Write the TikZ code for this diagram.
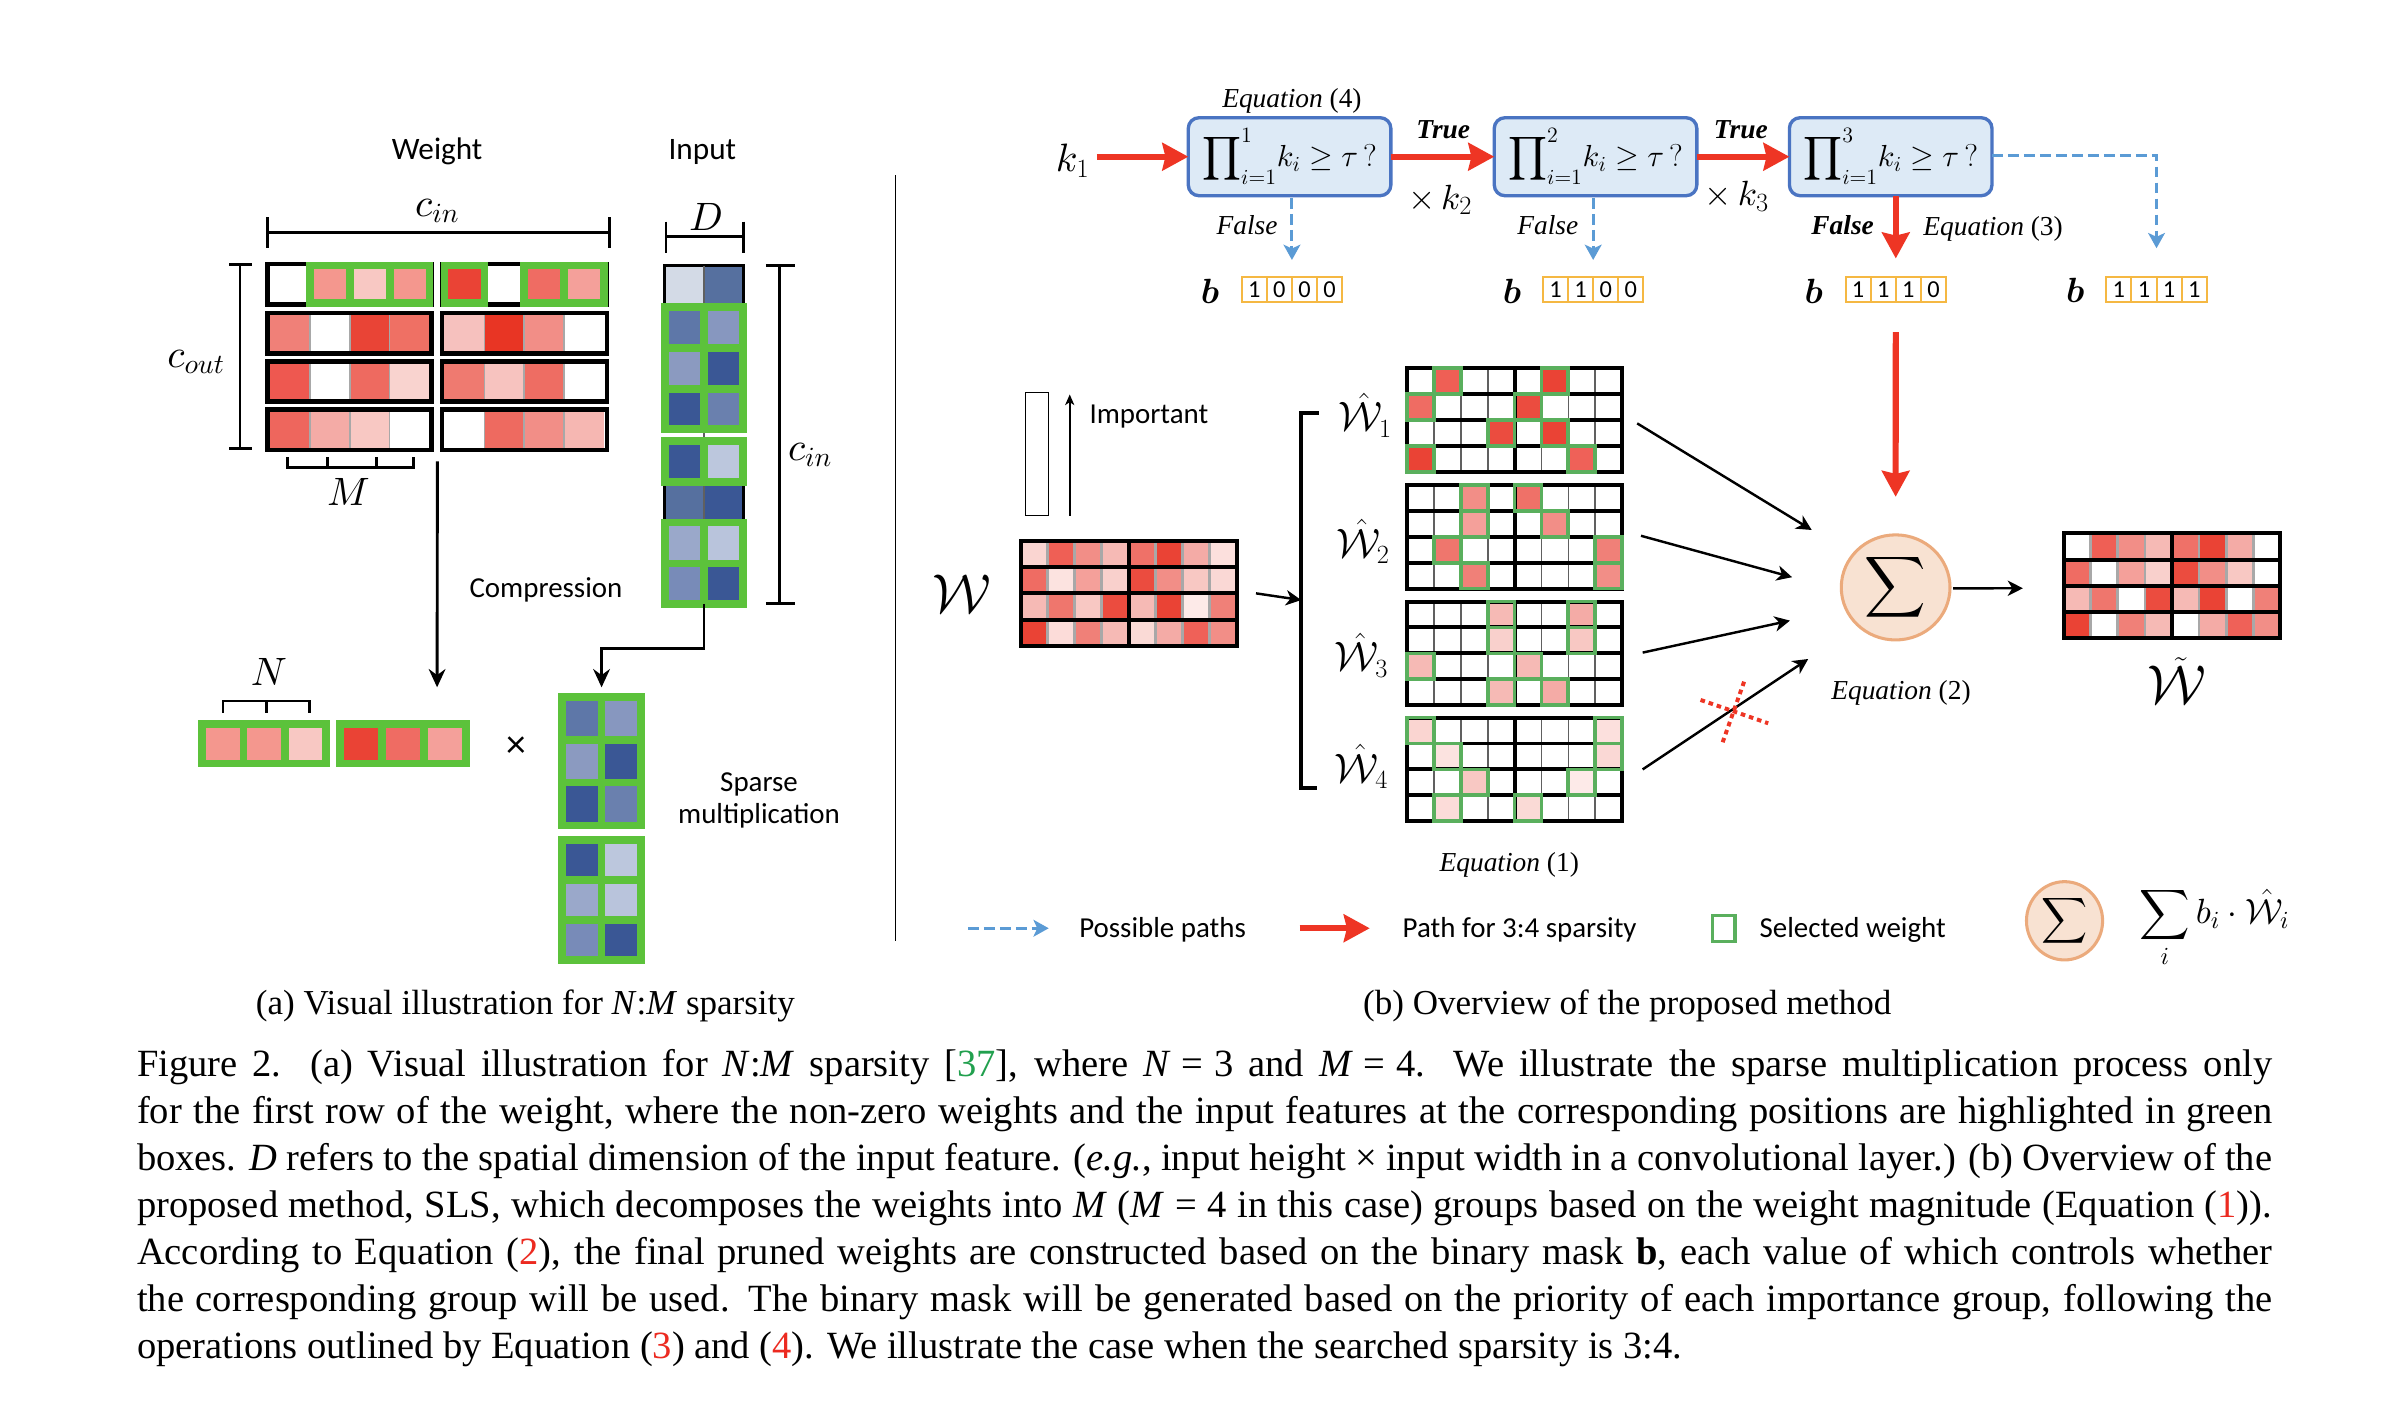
\documentclass[tikz,border=0pt]{standalone}
\usepackage{amsmath}
\usepackage{fontspec}
\setmainfont{Liberation Serif}
\setsansfont{Carlito}
\usetikzlibrary{arrows.meta,calc,shapes.geometric}
\DeclareFontFamily{OML}{cmm}{\skewchar\font127 }
\DeclareFontShape{OML}{cmm}{m}{it}{<->cmmi10}{}
\DeclareFontShape{OML}{cmm}{b}{it}{<->cmmib10}{}
\DeclareFontFamily{OMS}{cmsy}{\skewchar\font48 }
\DeclareFontShape{OMS}{cmsy}{m}{n}{<->cmsy10}{}
\DeclareFontShape{OMS}{cmsy}{b}{n}{<->cmbsy10}{}
\DeclareFontFamily{OMX}{cmex}{}
\DeclareFontShape{OMX}{cmex}{m}{n}{<->cmex10}{}

\definecolor{selgreen}{HTML}{5CC23B}
\definecolor{selgreenB}{HTML}{5AAF5D}
\definecolor{redarr}{HTML}{EE3524}
\definecolor{bluedash}{HTML}{5B9BD5}
\definecolor{boxfill}{HTML}{DDEAF6}
\definecolor{boxline}{HTML}{4A74C2}
\definecolor{sigfill}{HTML}{F8E2D2}
\definecolor{sigline}{HTML}{EBAA7C}
\definecolor{bitline}{HTML}{F5B843}
\definecolor{citegreen}{HTML}{21A04E}
\definecolor{refred}{HTML}{EC2A20}
\definecolor{sepgray}{HTML}{A8A8A8}
\definecolor{thingray}{HTML}{606060}
% weight magnitudes W (row, col)
\definecolor{w00}{HTML}{FAD5D1}\definecolor{w01}{HTML}{EF5F55}\definecolor{w02}{HTML}{F28E87}\definecolor{w03}{HTML}{F6BAB5}
\definecolor{w04}{HTML}{EF7168}\definecolor{w05}{HTML}{EA4335}\definecolor{w06}{HTML}{F4ABA6}\definecolor{w07}{HTML}{FCE0DD}
\definecolor{w10}{HTML}{EF6C63}\definecolor{w11}{HTML}{FCE3E0}\definecolor{w12}{HTML}{F4A09A}\definecolor{w13}{HTML}{F9D0CC}
\definecolor{w14}{HTML}{EB4C3F}\definecolor{w15}{HTML}{F28E87}\definecolor{w16}{HTML}{F8C8C3}\definecolor{w17}{HTML}{FAD8D5}
\definecolor{w20}{HTML}{F6BAB5}\definecolor{w21}{HTML}{EF766D}\definecolor{w22}{HTML}{F8C8C3}\definecolor{w23}{HTML}{EB4C3F}
\definecolor{w24}{HTML}{F6BAB5}\definecolor{w25}{HTML}{EA4335}\definecolor{w26}{HTML}{FDEAE8}\definecolor{w27}{HTML}{F08078}
\definecolor{w30}{HTML}{EA4335}\definecolor{w31}{HTML}{FCDCD9}\definecolor{w32}{HTML}{F08078}\definecolor{w33}{HTML}{F6BAB5}
\definecolor{w34}{HTML}{FADAD6}\definecolor{w35}{HTML}{F4ABA6}\definecolor{w36}{HTML}{EF6158}\definecolor{w37}{HTML}{F28E87}

% grid helpers (origin \Gx,\Gy; cell \Gw x \Gh)
\newcommand\Wfillall{\foreach \rr in {0,...,3}{\foreach \cc in {0,...,7}{\edef\cn{w\rr\cc}\fill[\cn] (\Gx+\cc*\Gw,\Gy+\rr*\Gh) rectangle ++(\Gw,\Gh);}}}
\newcommand\Wsel[1]{\foreach \rr/\cc in {#1}{\edef\cn{w\rr\cc}\fill[\cn] (\Gx+\cc*\Gw,\Gy+\rr*\Gh) rectangle ++(\Gw,\Gh);}}
\newcommand\Wwhite[1]{\foreach \rr/\cc in {#1}{\fill[white] (\Gx+\cc*\Gw,\Gy+\rr*\Gh) rectangle ++(\Gw,\Gh);}}
\newcommand\Wframe[1]{\foreach \rr/\cc in {#1}{\draw[selgreenB,line width=2.4] (\Gx+\cc*\Gw,\Gy+\rr*\Gh) rectangle ++(\Gw,\Gh);}}
\newcommand\Wlines[2]{%
  \foreach \ii in {1,2,3,5,6,7}{\draw[#1,line width=#2] (\Gx+\ii*\Gw,\Gy) -- ++(0,4*\Gh);}
  \foreach \ii in {1,2,3}{\draw[line width=2.6] (\Gx,\Gy+\ii*\Gh) -- ++(8*\Gw,0);}
  \draw[line width=2.6] (\Gx+4*\Gw,\Gy) -- ++(0,4*\Gh);
  \draw[line width=2.6] (\Gx,\Gy) rectangle ++(8*\Gw,4*\Gh);}
\newcommand\bitbox[6]{%
  \node[bitbox] (#1) at (#2,190.1) {};
  \foreach \kk/\dd in {0/#3,1/#4,2/#5,3/#6}{\node[bitdig] (#1-\kk) at ([xshift={(\kk-1.5)*16.5}]#1.center) {\dd};}
  \foreach \kk in {1,2,3}{\draw[bitline,line width=1.3] ([xshift={(\kk-2)*16.5}]#1.north) -- ([xshift={(\kk-2)*16.5}]#1.south);}}

\begin{document}
\begin{tikzpicture}[x=1pt,y=-1pt,
  every node/.style={inner sep=0pt,outer sep=0pt},
  sf/.style={font=\sffamily\fontsize{19}{22}\selectfont},
  sfbig/.style={font=\sffamily\fontsize{20.5}{23}\selectfont},
  ml/.style={font=\fontsize{26}{29}\selectfont},
  eqn/.style={font=\fontsize{18}{20}\selectfont},
  blab/.style={font=\fontsize{23}{25}\selectfont},
  hwlab/.style={font=\fontsize{27}{30}\selectfont},
  captext/.style={font=\fontsize{25.3}{30.8}\selectfont},
  subcap/.style={font=\fontsize{23}{27}\selectfont},
  ghost/.style={inner sep=0pt,outer sep=0pt},
  bitbox/.style={draw=bitline,line width=1.3,minimum width=66,minimum height=16.8},
  bitdig/.style={font=\sffamily\fontsize{16}{18}\selectfont},
  qbox/.style={draw=boxline,fill=boxfill,line width=2.2,rounded corners=7pt,minimum width=133,minimum height=51.2,font=\fontsize{20}{23}\selectfont},
  sigmanode/.style={ellipse,draw=sigline,fill=sigfill,line width=2},
  bline/.style={line width=1.9},
  arrK/.style={line width=1.9,-{Stealth[length=12pt,width=11pt,inset=4pt]}},
  arrS/.style={line width=1.6,-{Stealth[length=10pt,width=10pt,inset=3pt]}},
  redA/.style={redarr,line width=4,-{Stealth[length=17pt,width=18pt,inset=2pt]}},
  bdash/.style={bluedash,line width=1.9,dash pattern=on 7pt off 3.5pt,-{Stealth[length=10pt,width=11pt,inset=2.5pt]}}]

\useasboundingbox (0,0) rectangle (1568,925.8);
\fill[white] (0,0) rectangle (1568,925.8);

%================ (a) =================
\node[sfbig] (tWeight) at (287,99.6) {Weight};
\node[sfbig] (tInput) at (461.2,99.6) {Input};
\node[ml] (tcin) at (287.1,138.5) {$c_{in}$};
\node[ml] (tD) at (463.6,142.5) {$D$};
\node[ml] (tcout) at (128.7,237.5) {$c_{out}$};
\node[ml] (tcin2) at (531.9,298.5) {$c_{in}$};
\node[ml] (tM) at (228.8,323) {$M$};
\node[ml] (tN) at (176.6,441.5) {$N$};

% brackets
\draw[bline] (175.5,142.7) -- (175.5,163) (400,142.7) -- (400,163) (175.5,152.8) -- (400,152.8);
\draw[bline] (437.3,145.5) -- (437.3,165.9) (487.9,145.5) -- (487.9,165.9) (437.3,155.4) -- (487.9,155.4);
\draw[bline] (157.6,173.5) -- (157.6,294.4) (150.6,173.5) -- (165.2,173.5) (150.6,294.4) -- (165.2,294.4);
\draw[bline] (512,174.4) -- (512,396) (502.9,174.4) -- (522,174.4) (502.9,396) -- (522,396);
\draw[bline] (188.5,300.3) -- (188.5,307) -- (271.8,307) -- (271.8,300.3) (215.1,300.3) -- (215.1,307) (247.3,300.3) -- (247.3,307);
\draw[bline] (146.4,467.9) -- (146.4,460.3) -- (203,460.3) -- (203,467.9) (175.2,460.3) -- (175.2,467.9);

% weight matrix
\node[ghost,minimum width=225.8,minimum height=124.8] (lw) at (287.2,234.2) {};
\foreach \ya/\cl in {171.8/{FFFFFF,F4978E,F8C8C3,F4978E,EA4335,FFFFFF,EF6C63,F4A09A},
                     204/{F08078,FFFFFF,E94436,EF7064,F6C1BE,E83524,F28E87,FFFFFF},
                     235.7/{EE5850,FFFFFF,EE6A60,F9D3CF,EF7A70,F7C3BF,EE6D63,FFFFFF},
                     267.5/{EE665D,F4ABA6,F8C8C3,FFFFFF,FFFFFF,EE6A60,F28E87,F6B7B2}}{
  \foreach \hc [count=\jj from 0] in \cl {
    \pgfmathsetmacro\xa{\jj<4 ? 177.3+\jj*26.2 : 291.8+(\jj-4)*26.2}
    \definecolor{tmpc}{HTML}{\hc}
    \fill[tmpc] (\xa,\ya+3) rectangle ++(26.2,23.6);
  }
  \foreach \gg in {177.3,291.8}{\foreach \kk in {1,2,3}{\draw[sepgray,line width=1] (\gg+\kk*26.2,\ya+3) -- ++(0,23.6);}}
  \draw[line width=3] (175.8,\ya+1.5) rectangle (283.3,\ya+28.1);
  \draw[line width=3] (290.3,\ya+1.5) rectangle (398.6,\ya+28.1);
}
\foreach \jj in {1,2,3,4,6,7}{
  \pgfmathsetmacro\xa{\jj<4 ? 177.3+\jj*26.2 : 291.8+(\jj-4)*26.2}
  \draw[selgreen,line width=5] (\xa,174.3) rectangle ++(26.2,24.6);
}

% input column
\node[ghost,minimum width=51.5,minimum height=222] (inp) at (462.25,285.5) {};
\foreach \ya/\yb/\ca/\cb in {174.5/201.5/D3DAE6/56709F, 201.5/228.5/5E77A8/8797BF, 228.5/255.5/8B9AC0/3A5795,
    255.5/281.5/3A5795/6A80AE, 289.5/316.5/3A5795/BCC7DD, 316.5/343/56709F/3A5795, 343/370/9AA8CA/B9C4DC, 370/396.5/788BB8/3A5795}{
  \definecolor{tmpa}{HTML}{\ca}\definecolor{tmpb}{HTML}{\cb}
  \fill[tmpa] (436.5,\ya) rectangle (462.25,\yb);
  \fill[tmpb] (462.25,\ya) rectangle (488,\yb);
}
\draw[line width=1.8] (436.5,174.5) rectangle (488,281.5);
\draw[line width=1.8] (436.5,289.5) rectangle (488,396.5);
\draw[line width=0.8,thingray] (462.25,174.5) -- (462.25,396.5);
\foreach \ya/\yb in {201.5/228.5,228.5/255.5,255.5/281.5,289.5/316.5,343/370,370/396.5}{
  \draw[selgreen,line width=5] (436.5,\ya) rectangle (462.25,\yb);
  \draw[selgreen,line width=5] (462.25,\ya) rectangle (488,\yb);
}

\node[sf] (tComp) at (358.5,387.4) {Compression};

% compressed weight row
\node[ghost,minimum width=178.2,minimum height=31] (cw) at (219.4,488.3) {};
\foreach \hc [count=\jj from 0] in {F4978E,F4978E,F8C8C3}{
  \definecolor{tmpc}{HTML}{\hc}
  \fill[tmpc] (132.8+\jj*27.13,475.3) rectangle ++(27.13,26);
  \draw[selgreen,line width=5] (132.8+\jj*27.13,475.3) rectangle ++(27.13,26);
}
\foreach \hc [count=\jj from 0] in {EA4335,EF6C63,F4A09A}{
  \definecolor{tmpc}{HTML}{\hc}
  \fill[tmpc] (223.1+\jj*27.63,475.3) rectangle ++(27.63,26);
  \draw[selgreen,line width=5] (223.1+\jj*27.63,475.3) rectangle ++(27.63,26);
}
\node[font=\sffamily\fontsize{26}{28}\selectfont] (times) at (338.8,490.3) {×};

% compressed input
\node[ghost,minimum width=56.6,minimum height=177.8] (cin) at (395,544.1) {};
\foreach \ya/\hh/\ca/\cb in {457.7/28.1/5E77A8/8797BF, 485.8/28.1/8B9AC0/3A5795, 513.9/28.1/3A5795/6A80AE,
    551.4/26.37/3A5795/BCC7DD, 577.77/26.37/9AA8CA/B9C4DC, 604.14/26.37/788BB8/3A5795}{
  \definecolor{tmpa}{HTML}{\ca}\definecolor{tmpb}{HTML}{\cb}
  \fill[tmpa] (369.2,\ya) rectangle ++(25.8,\hh);
  \fill[tmpb] (395,\ya) rectangle ++(25.8,\hh);
  \draw[selgreen,line width=5] (369.2,\ya) rectangle ++(25.8,\hh);
  \draw[selgreen,line width=5] (395,\ya) rectangle ++(25.8,\hh);
}
\node[sf,align=center] (tSparse) at (498.4,525.5) {Sparse\\[-1pt]multiplication};

% arrows (a)
\coordinate (wdown) at (287,451.3);
\draw[arrK] ([yshift=-6.4pt]lw.south) -- (wdown);
\draw[arrK] (inp.south) -- ++(0,29.2) -| ([yshift=3.9pt]cin.north);

% separator
\draw[line width=1.2] (588,115) -- (588,618);

\node[subcap,anchor=base] (capa) at (345,666) {(a) Visual illustration for \textit{N}:\textit{M} sparsity};

%================ (b) =================
\node[font=\fontsize{26}{29}\selectfont] (k1) at (704.3,105.5) {$k_1$};
\node[qbox] (q1) at (846.75,102.9) {$\displaystyle\prod\nolimits_{i=1}^{1}\! k_i \geq \tau\,?$};
\node[qbox] (q2) at (1047.65,102.9) {$\displaystyle\prod\nolimits_{i=1}^{2}\! k_i \geq \tau\,?$};
\node[qbox] (q3) at (1241.45,102.9) {$\displaystyle\prod\nolimits_{i=1}^{3}\! k_i \geq \tau\,?$};
\node[eqn] (eq4) at (848.3,66.1) {\itshape Equation \upshape(4)};
\draw[redA] (k1.east |- q1.west) ++(5,0) -- (q1.west);
\draw[redA] (q1.east) -- (q2.west);
\draw[redA] (q2.east) -- (q3.west);
\node[eqn] (true1) at (947.6,85.4) {\bfseries\itshape True};
\node[eqn] (true2) at (1143,85.4) {\bfseries\itshape True};
\node[font=\fontsize{23}{26}\selectfont] (xk2) at (945.6,131) {$\times\,k_2$};
\node[font=\fontsize{23}{26}\selectfont] (xk3) at (1140.4,129) {$\times\,k_3$};

\bitbox{bb1}{848.3}{1}{0}{0}{0}
\bitbox{bb2}{1046.1}{1}{1}{0}{0}
\bitbox{bb3}{1244.8}{1}{1}{1}{0}
\bitbox{bb4}{1416}{1}{1}{1}{1}
\node[blab] (bl1) at (794.5,191.5) {$\boldsymbol{b}$};
\node[blab] (bl2) at (992.8,191.5) {$\boldsymbol{b}$};
\node[blab] (bl3) at (1191,191.5) {$\boldsymbol{b}$};
\node[blab] (bl4) at (1362.6,190.5) {$\boldsymbol{b}$};

\draw[bdash] ([yshift=-1.5pt]q1.south -| bb1.north) -- ([yshift=11pt]bb1.north);
\draw[bdash] ([yshift=-1.5pt]q2.south -| bb2.north) -- ([yshift=11pt]bb2.north);
\draw[redA] ([yshift=-0.5pt]q3.south -| bb3.north) -- ([yshift=12pt]bb3.north);
\draw[bdash] ([yshift=1pt]q3.east) -| ([yshift=18.7pt]bb4.north);
\node[eqn] (false1) at (818.8,147.7) {\itshape False};
\node[eqn] (false2) at (1016.3,147.7) {\itshape False};
\node[eqn] (false3) at (1209.9,147.7) {\bfseries\itshape False};
\node[eqn] (eq3) at (1308.7,150.6) {\itshape Equation \upshape(3)};

% importance indicator
\node[draw,line width=1,minimum width=15.2,minimum height=81] (imp) at (680.9,298.1) {};
\coordinate (impA) at (702.4,338.6);
\coordinate (impB) at (702.4,259);
\draw[line width=1.2,-{Stealth[length=7pt,width=6pt,inset=2pt]}] (impA) -- (impB);
\node[sf] (tImp) at (754.4,273.6) {Important};

% W matrix
\node[font=\fontsize{36}{38}\selectfont] (tWcal) at (631.4,390) {$\mathcal{W}$};
\node[ghost,minimum width=141.8,minimum height=69.2] (wm) at (741.1,389.6) {};
\def\Gx{670.2}\def\Gy{355}\def\Gw{17.725}\def\Gh{17.3}
\Wfillall
\Wlines{sepgray}{1.8}

% bracket
\coordinate (brtop) at (854.4,271);
\coordinate (brmid) at (854.4,394);
\coordinate (brbot) at (854.4,517.6);
\draw[line width=2.6] (866,271) -- (brtop) -- (brbot) -- (865,517.6);
\draw[arrS] ([xshift=12.7pt]wm.east) -- (brmid);

% W-hat grids
\node[ghost,minimum width=141,minimum height=68] (g1) at (994.5,275.8) {};
\node[ghost,minimum width=141,minimum height=68] (g2) at (994.5,352.5) {};
\node[ghost,minimum width=141,minimum height=68] (g3) at (994.5,429) {};
\node[ghost,minimum width=141,minimum height=68] (g4) at (994.5,505.2) {};
\def\Gw{17.625}\def\Gh{17}\def\Gx{924}
\def\Gy{241.8}
\Wsel{0/1,0/5,1/0,1/4,2/3,2/5,3/0,3/6}\Wlines{thingray}{1}\Wframe{0/1,0/5,1/0,1/4,2/3,2/5,3/0,3/6}
\def\Gy{318.5}
\Wsel{0/2,0/4,1/2,1/5,2/1,2/7,3/2,3/7}\Wlines{thingray}{1}\Wframe{0/2,0/4,1/2,1/5,2/1,2/7,3/2,3/7}
\def\Gy{395}
\Wsel{0/3,0/6,1/3,1/6,2/0,2/4,3/3,3/5}\Wlines{thingray}{1}\Wframe{0/3,0/6,1/3,1/6,2/0,2/4,3/3,3/5}
\def\Gy{471.2}
\Wsel{0/0,0/7,1/1,1/7,2/2,2/6,3/1,3/4}\Wlines{thingray}{1}\Wframe{0/0,0/7,1/1,1/7,2/2,2/6,3/1,3/4}

\node[hwlab] (hw1) at (896.5,272.5) {$\hat{\mathcal{W}}_1$};
\node[hwlab] (hw2) at (895,355.5) {$\hat{\mathcal{W}}_2$};
\node[hwlab] (hw3) at (894,430) {$\hat{\mathcal{W}}_3$};
\node[hwlab] (hw4) at (894,503.5) {$\hat{\mathcal{W}}_4$};
\node[eqn] (eq1) at (991,568) {\itshape Equation \upshape(1)};

% sigma
\node[sigmanode,minimum width=71.4,minimum height=69,font=\fontsize{28}{30}\selectfont] (sig) at (1244.7,385.7) {$\displaystyle\sum$};
\draw[redA] ([yshift=-19.5pt]bb3.south) -- ([yshift=25pt]sig.north);
\draw[arrS] ($(g1.east)+(10,2.2)$) -- ($(sig.center)+(-55.1,-37.7)$);
\draw[arrS] ($(g2.east)+(12.5,-0.7)$) -- ($(sig.center)+(-68,-6.7)$);
\draw[arrS] ($(g3.east)+(13.6,-0.5)$) -- ($(sig.center)+(-69.4,21.8)$);
\draw[arrS] ($(g4.east)+(13.6,0)$) -- ($(sig.center)+(-57.4,47)$);
\draw[redarr,line width=2.6,dash pattern=on 3pt off 2.6pt] (1116.6,459.6) -- (1161,474.9);
\draw[redarr,line width=2.6,dash pattern=on 3pt off 2.6pt] (1145.2,447.6) -- (1130.9,488);
\node[eqn] (eq2) at (1248.2,455.2) {\itshape Equation \upshape(2)};

% W tilde
\node[ghost,minimum width=142.3,minimum height=68.9] (wt) at (1426.15,384.65) {};
\def\Gx{1355}\def\Gy{350.2}\def\Gw{17.79}\def\Gh{17.23}
\Wfillall
\Wwhite{0/0,0/7,1/1,1/7,2/2,2/6,3/1,3/4}
\Wlines{sepgray}{1.8}
\draw[arrS] ([xshift=2pt,yshift=-0.6pt]sig.east) -- ([xshift=-26.7pt,yshift=-1.6pt]wt.west);
\node[font=\fontsize{36}{38}\selectfont] (tWt) at (1429,447) {$\tilde{\mathcal{W}}$};

% legend
\coordinate (lg1a) at (635.6,609.5);
\coordinate (lg1b) at (688.6,609.5);
\draw[bdash] (lg1a) -- (lg1b);
\node[sf] (lgt1) at (763.4,610.6) {Possible paths};
\coordinate (lg2a) at (853.4,609.5);
\coordinate (lg2b) at (899.4,609.5);
\draw[redA] (lg2a) -- (lg2b);
\node[sf] (lgt2) at (997.8,610.6) {Path for 3:4 sparsity};
\node[draw=selgreenB,line width=2.2,minimum width=15,minimum height=17] (lgsq) at (1131.75,609.65) {};
\node[sf] (lgt3) at (1216.5,610.6) {Selected weight};
\node[sigmanode,minimum width=50,minimum height=51.4,font=\fontsize{21}{24}\selectfont] (lsig) at (1355.6,604.6) {$\displaystyle\sum$};
\node[font=\fontsize{23}{26}\selectfont] (lform) at (1454,609) {$\displaystyle\sum_i b_i\cdot\hat{\mathcal{W}}_i$};

\node[subcap,anchor=base] (capb) at (1068.5,666) {(b) Overview of the proposed method};

%================ caption =================
\node[captext,anchor=base west] (c1) at (90,707) {\makebox[1402pt][s]{Figure 2. (a) Visual illustration for \textit{N}:\textit{M} sparsity [\textcolor{citegreen}{37}], where \textit{N}\hspace{0.28em}=\hspace{0.28em}3 and \textit{M}\hspace{0.28em}=\hspace{0.28em}4. We illustrate the sparse multiplication process only}};
\node[captext,anchor=base west] (c2) at (90,737.8) {\makebox[1402pt][s]{for the first row of the weight, where the non-zero weights and the input features at the corresponding positions are highlighted in green}};
\node[captext,anchor=base west] (c3) at (90,768.6) {\makebox[1402pt][s]{boxes. \textit{D} refers to the spatial dimension of the input feature. (\textit{e.g.}, input height × input width in a convolutional layer.) (b) Overview of the}};
\node[captext,anchor=base west] (c4) at (90,799.4) {\makebox[1402pt][s]{proposed method, SLS, which decomposes the weights into \textit{M} (\textit{M}\hspace{0.28em}=\hspace{0.28em}4 in this case) groups based on the weight magnitude (Equation (\textcolor{refred}{1})).}};
\node[captext,anchor=base west] (c5) at (90,830.2) {\makebox[1402pt][s]{According to Equation (\textcolor{refred}{2}), the final pruned weights are constructed based on the binary mask \textbf{b}, each value of which controls whether}};
\node[captext,anchor=base west] (c6) at (90,861) {\makebox[1402pt][s]{the corresponding group will be used. The binary mask will be generated based on the priority of each importance group, following the}};
\node[captext,anchor=base west] (c7) at (90,891.8) {operations outlined by Equation (\textcolor{refred}{3}) and (\textcolor{refred}{4}). We illustrate the case when the searched sparsity is 3:4.};

\end{tikzpicture}
\end{document}
